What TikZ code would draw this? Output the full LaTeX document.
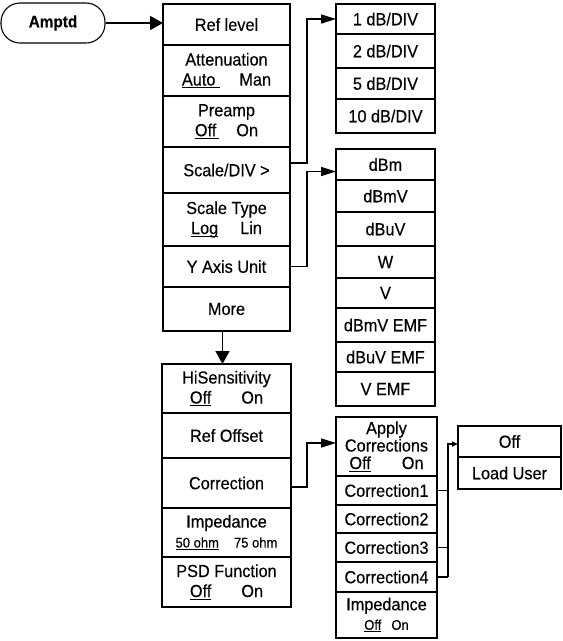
\documentclass[tikz,border=0pt]{standalone}
\usepackage{fontspec}
\setmainfont{Liberation Sans}[FakeStretch=0.93,FakeBold=0.3]
\usetikzlibrary{arrows.meta}
\newcommand\myul[1]{\setbox0=\hbox{#1}\rlap{\rule[-2.6pt]{\wd0}{1pt}}\box0}
\newcommand\bx[6]{\node[box,minimum width={(#4-#2)*1pt},minimum height={(#5-#3)*1pt}] (#1) at ({(#2+#4)/2},{(#3+#5)/2}) {#6};}
\tikzset{
  box/.style={draw,line width=1.6pt,inner sep=0pt,outer sep=0pt,align=center,
    font=\fontsize{17.5}{20}\selectfont},
  conn/.style={line width=1.6pt},
  bigarr/.style={conn,-{Triangle[length=13pt,width=14pt]}},
  subarr/.style={conn,-{Triangle[length=15pt,width=9pt]}},
  smallarr/.style={conn,-{Triangle[length=6pt,width=5pt]}}
}
\begin{document}
\begin{tikzpicture}[x=1pt,y=-1pt]
\useasboundingbox (0,0) rectangle (563,641);
% Amptd key
\node[draw,line width=1.1pt,rounded corners=19pt,minimum width=104pt,minimum height=40pt,inner sep=0pt,
  font=\fontsize{16.5}{19}\selectfont\bfseries] (amptd) at (53,23) {Amptd};
% column 1
\bx{reflevel}{163}{4}{290}{45}{Ref level}
\bx{atten}{163}{45}{290}{96}{Attenuation\\\myul{Auto\hspace{5pt}}\hspace{19pt}Man}
\bx{preamp}{163}{96}{290}{147}{Preamp\\\myul{Off\hspace{3pt}}\hspace{17pt}On}
\bx{scalediv}{163}{147}{290}{193}{Scale/DIV >}
\bx{scaletype}{163}{193}{290}{246}{Scale Type\\\myul{Log}\hspace{22pt}Lin}
\bx{yaxis}{163}{246}{290}{287}{Y Axis Unit}
\bx{more}{163}{287}{290}{331}{More}
% scale/div submenu
\bx{db1}{336}{4}{435}{34}{1 dB/DIV}
\bx{db2}{336}{34}{435}{68}{2 dB/DIV}
\bx{db5}{336}{68}{435}{99}{5 dB/DIV}
\bx{db10}{336}{99}{435}{133}{10 dB/DIV}
% y axis unit submenu
\bx{dbm}{336}{149}{435}{180}{dBm}
\bx{dbmv}{336}{180}{435}{212}{dBmV}
\bx{dbuv}{336}{212}{435}{246}{dBuV}
\bx{w}{336}{246}{435}{278}{W}
\bx{v}{336}{278}{435}{308}{V}
\bx{dbmvemf}{336}{308}{435}{342}{dBmV EMF}
\bx{dbuvemf}{336}{342}{435}{372}{dBuV EMF}
\bx{vemf}{336}{372}{435}{406}{V EMF}
% column 3 (More)
\bx{hisens}{162}{364}{291}{413}{HiSensitivity\\\myul{Off}\hspace{30pt}On}
\bx{refoffset}{162}{413}{291}{458}{Ref Offset}
\bx{correction}{162}{458}{291}{508}{Correction}
\bx{imped}{162}{508}{291}{557}{Impedance\\{\fontsize{14}{20}\selectfont\myul{50 ohm}\hspace{15pt}75 ohm}}
\bx{psd}{162}{557}{291}{607}{PSD Function\\\myul{Off}\hspace{30pt}On}
% correction submenu
\node[box,minimum width=101pt,minimum height=59pt,font=\fontsize{17.5}{17.5}\selectfont] (apply) at (386.5,446.5)
  {Apply\\Corrections\\\myul{Off}\hspace{31pt}On};
\bx{corr1}{336}{476}{437}{505}{Correction1}
\bx{corr2}{336}{505}{437}{533}{Correction2}
\bx{corr3}{336}{533}{437}{562}{Correction3}
\bx{corr4}{336}{562}{437}{592}{Correction4}
\node[box,minimum width=101pt,minimum height=46pt,font=\fontsize{17.5}{19.5}\selectfont] (imped2) at (386.5,615)
  {Impedance\\{\fontsize{14}{19.5}\selectfont\myul{Off}\hspace{10pt}On}};
% correction item submenu
\bx{off}{458}{426}{561}{457}{Off}
\bx{loaduser}{458}{457}{561}{489}{Load User}
% connectors
\draw[bigarr] (amptd.east) -- (amptd.east -| reflevel.west);
\draw[subarr] ([yshift=7pt]scalediv.east) -- ++(17,0) |- (db1.west);
\draw[subarr] (yaxis.east) -- ++(17,0) |- ([yshift=-7pt]dbm.west);
\draw[bigarr] ([xshift=-4pt]more.south) -- ([xshift=-4pt]hisens.north);
\draw[subarr] ([yshift=-4pt]correction.east) -- ++(16,0) |- ([yshift=3.5pt]apply.west);
\draw[conn] (corr1.east) -- ++(11,0);
\draw[conn] (corr3.east) -- ++(11,0);
\draw[conn] (corr4.east) -- ++(11,0) coordinate (j4);
\draw[smallarr] (j4) |- ([yshift=-2.5pt]off.west);
\end{tikzpicture}
\end{document}
